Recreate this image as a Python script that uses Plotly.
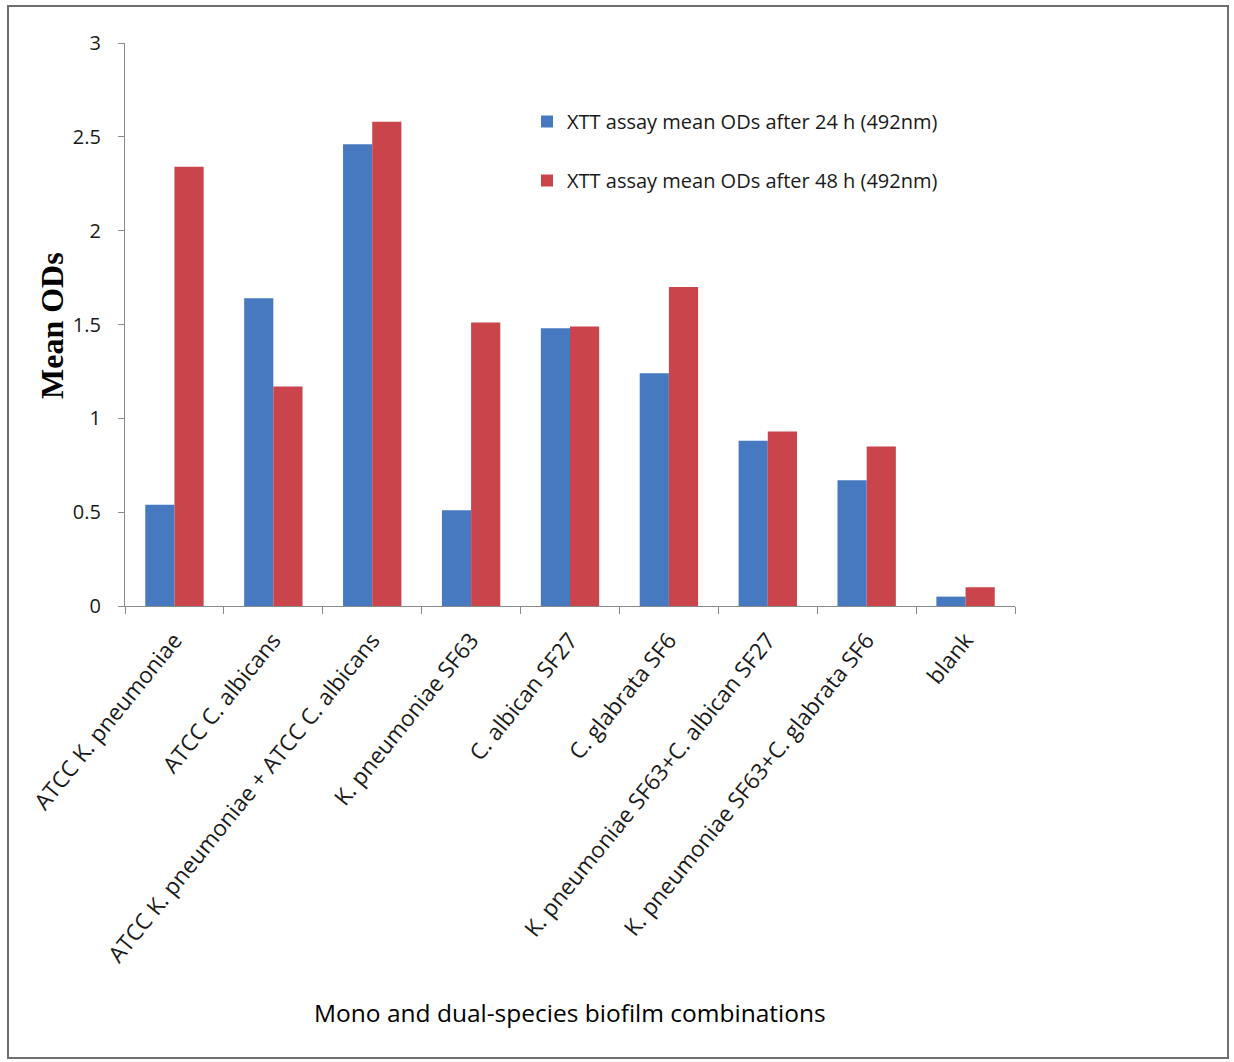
import plotly.graph_objects as go

# Biofilm combinations (x categories)
categories = [
    "ATCC K. pneumoniae",
    "ATCC C. albicans",
    "ATCC K. pneumoniae + ATCC C. albicans",
    "K. pneumoniae SF63",
    "C. albican SF27",
    "C. glabrata SF6",
    "K. pneumoniae SF63+C. albican SF27",
    "K. pneumoniae SF63+C. glabrata SF6",
    "blank",
]

# XTT assay mean optical densities (492 nm)
od_24h = [0.54, 1.64, 2.46, 0.51, 1.48, 1.24, 0.88, 0.67, 0.05]
od_48h = [2.34, 1.17, 2.58, 1.51, 1.49, 1.70, 0.93, 0.85, 0.10]

series_names = [
    "XTT assay mean ODs after 24 h (492nm)",
    "XTT assay mean ODs after 48 h (492nm)",
]

y_ticks = [0, 0.5, 1, 1.5, 2, 2.5, 3]
y_tick_text = ["0", "0.5", "1", "1.5", "2", "2.5", "3"]

BLUE = "#4679c0"
RED = "#c9444b"
AXIS = "#8a8a8a"
FONT = "Open Sans"

W, H = 1234, 1062
L, R, T, B = 125, 219, 43, 456
PW, PH = W - L - R, H - T - B


def px_x(x):
    return (x - L) / PW


def px_y(y):
    return (H - B - y) / PH


fig = go.Figure()
fig.add_trace(go.Bar(x=categories, y=od_24h, name=series_names[0],
                     marker=dict(color=BLUE, line=dict(width=0)), legendgroup="a"))
fig.add_trace(go.Bar(x=categories, y=od_48h, name=series_names[1],
                     marker=dict(color=RED, line=dict(width=0)), legendgroup="b"))

fig.update_layout(
    width=W, height=H,
    margin=dict(l=L, r=R, t=T, b=B, autoexpand=False),
    paper_bgcolor="white", plot_bgcolor="white",
    barmode="group", bargap=0.41, bargroupgap=0,
    font=dict(family=FONT, color="#1a1a1a"),
    showlegend=True,
    legend=dict(
        x=px_x(527), y=px_y(102), xanchor="left", yanchor="top",
        font=dict(size=20, family=FONT, color="#1a1a1a"),
        bgcolor="rgba(0,0,0,0)", tracegroupgap=30, traceorder="grouped",
        itemwidth=30,
    ),
    xaxis=dict(
        type="category", tickangle=-51, tickson="boundaries",
        ticks="outside", ticklen=7, tickcolor=AXIS,
        showline=True, linecolor=AXIS, linewidth=1.2,
        showgrid=False, zeroline=False, automargin=False,
        ticklabelstandoff=11,
        tickfont=dict(size=22.5, family=FONT, color="#1a1a1a"),
    ),
    yaxis=dict(
        range=[0, 3], tickvals=y_ticks, ticktext=y_tick_text,
        ticks="outside", ticklen=6, tickcolor=AXIS,
        showline=True, linecolor=AXIS, linewidth=1.2,
        showgrid=False, zeroline=False, automargin=False,
        ticklabelstandoff=13,
        tickfont=dict(size=20, family=FONT, color="#1a1a1a"),
    ),
    shapes=[
        dict(type="rect", xref="paper", yref="paper",
             x0=px_x(8), x1=px_x(1228), y0=px_y(1058), y1=px_y(6),
             line=dict(color="#6e6e6e", width=2), fillcolor="rgba(0,0,0,0)",
             layer="below"),
    ],
    annotations=[
        dict(text="Mono and dual-species biofilm combinations",
             xref="paper", yref="paper", x=0.5, y=px_y(1012),
             xanchor="center", yanchor="middle", showarrow=False,
             font=dict(size=24.5, family=FONT, color="#000000")),
        dict(text="<b>Mean ODs</b>", textangle=-90,
             xref="paper", yref="paper", x=px_x(52), y=px_y(326),
             xanchor="center", yanchor="middle", showarrow=False,
             font=dict(size=32, family="Liberation Serif", color="#000000")),
    ],
)

fig.write_html("out.html")
